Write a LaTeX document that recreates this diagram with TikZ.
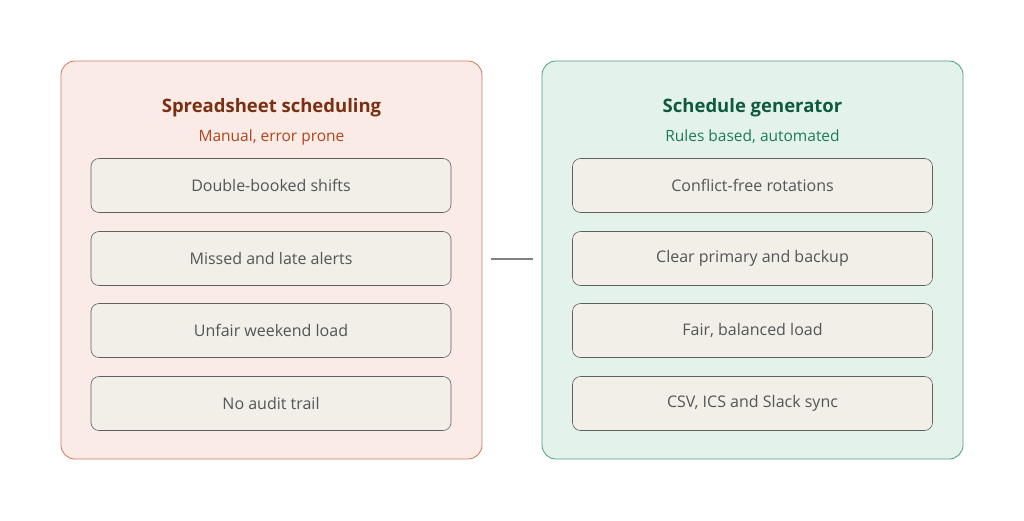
\documentclass[tikz,border=0pt]{standalone}
\usepackage{fontspec}
\setmainfont{Open Sans}
\definecolor{itemfill}{HTML}{F2EEE8}
\definecolor{txt}{HTML}{555555}
\definecolor{lfill}{HTML}{FAEBE6}
\definecolor{lborder}{HTML}{CC7A62}
\definecolor{rfill}{HTML}{E3F3EC}
\definecolor{rborder}{HTML}{4F9E80}
\definecolor{ltc}{HTML}{7A2E12}
\definecolor{lsc}{HTML}{B0441C}
\definecolor{rtc}{HTML}{0E5A3C}
\definecolor{rsc}{HTML}{1E7A55}
\begin{document}
\begin{tikzpicture}[x=1pt,y=-1pt,
 panel/.style={draw=#1,line width=0.8pt,rounded corners=14pt},
 item/.style={draw=gray!75!black,line width=0.6pt,fill=itemfill,rounded corners=8pt,minimum width=360pt,minimum height=54pt,font=\fontsize{16}{18}\selectfont,text=txt},
 ttl/.style={font=\fontsize{18.5}{22}\selectfont\bfseries},
 sub/.style={font=\fontsize{15.5}{18}\selectfont}]
\useasboundingbox (0,0) rectangle (1024,520);
\fill[white] (0,0) rectangle (1024,520);
\draw[panel=lborder,fill=lfill] (61,61) rectangle (482,459);
\draw[panel=rborder,fill=rfill] (542,61) rectangle (963,459);
\node[ttl,text=ltc] (lt) at (271.5,108) {Spreadsheet scheduling};
\node[sub,text=lsc] (ls) at (271.5,137) {Manual, error prone};
\node[ttl,text=rtc] (rt) at (752.5,108) {Schedule generator};
\node[sub,text=rsc] (rs) at (752.5,137) {Rules based, automated};
\node[item] (l1) at (271,185.5) {Double-booked shifts};
\node[item] (l2) at (271,258.5) {Missed and late alerts};
\node[item] (l3) at (271,330.5) {Unfair weekend load};
\node[item] (l4) at (271,403.5) {No audit trail};
\node[item] (r1) at (752.5,185.5) {Conflict-free rotations};
\node[item] (r2) at (752.5,258.5) {Clear primary and backup};
\node[item] (r3) at (752.5,330.5) {Fair, balanced load};
\node[item] (r4) at (752.5,403.5) {CSV, ICS and Slack sync};
\coordinate (ca) at (491,259);
\coordinate (cb) at (533,259);
\draw[gray,line width=1.2pt] (ca) -- (cb);
\end{tikzpicture}
\end{document}
